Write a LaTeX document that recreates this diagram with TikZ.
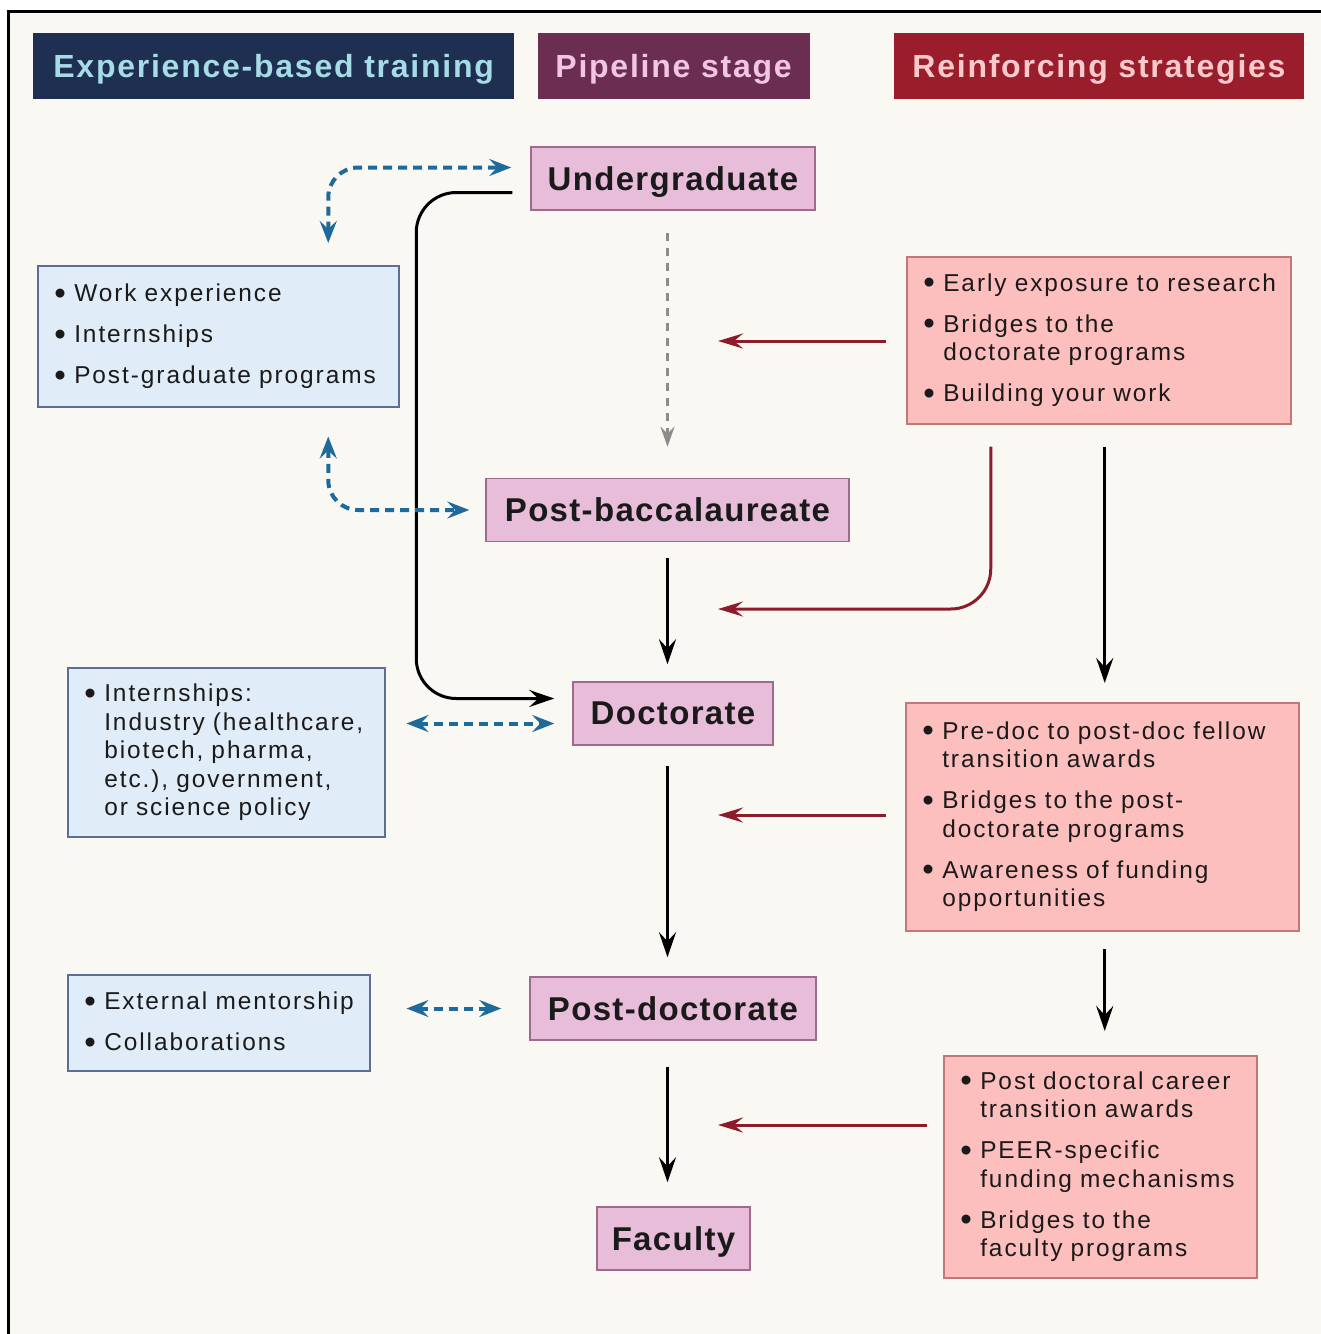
\documentclass[tikz,border=0pt]{standalone}
\usepackage{fontspec}
\setmainfont{Liberation Sans}[LetterSpace=8]
\usetikzlibrary{arrows.meta, positioning, calc}

\definecolor{cream}{HTML}{FAF8F3}
\definecolor{navyhead}{HTML}{1F2F52}
\definecolor{navytext}{HTML}{A6DCE6}
\definecolor{plumhead}{HTML}{6C2D52}
\definecolor{plumtext}{HTML}{F2C6E2}
\definecolor{redhead}{HTML}{9A1D2B}
\definecolor{redtext}{HTML}{F9C9CB}
\definecolor{stagefill}{HTML}{E8BDD9}
\definecolor{stageline}{HTML}{A06A8A}
\definecolor{expfill}{HTML}{E0ECF7}
\definecolor{expline}{HTML}{5C6D96}
\definecolor{strfill}{HTML}{FDBEBE}
\definecolor{strline}{HTML}{C27878}
\definecolor{bluearrow}{HTML}{1D6A9B}
\definecolor{redarrow}{HTML}{8E1B2B}
\definecolor{greyarrow}{HTML}{8C8C8C}
\definecolor{ink}{HTML}{1A1A1A}

\newcommand{\bitem}[1]{\mbox{\makebox[20pt][l]{\raisebox{-2.5pt}{\scalebox{1.35}{\textbullet}}}#1}}
\newcommand{\bcont}[1]{\mbox{\hspace*{20pt}#1}}

\tikzset{
	header/.style	={minimum height=66pt, inner sep=0pt, anchor=north west, text depth=0pt,
					  font=\bfseries\fontsize{32}{38}\selectfont\addfontfeature{LetterSpace=5.5}},
	stage/.style	={draw=stageline, fill=stagefill, line width=1.5pt, inner sep=0pt, minimum height=63pt,
					  text depth=0pt, text=ink, font=\bfseries\fontsize{33}{38}\selectfont\addfontfeature{LetterSpace=4}},
	listbox/.style	={line width=1.5pt, inner sep=0pt, anchor=north west, align=left,
					  text=ink, font=\fontsize{24.4}{28.5}\selectfont},
	expbox/.style	={listbox, draw=expline, fill=expfill},
	strbox/.style	={listbox, draw=strline, fill=strfill},
	bluedash/.style	={draw=bluearrow, line width=4pt, dash pattern=on 9pt off 6pt,
					  {Stealth[length=22pt, width=17pt, inset=8pt]}-{Stealth[length=22pt, width=17pt, inset=8pt]}},
	greydash/.style	={draw=greyarrow, line width=3.5pt, dash pattern=on 8pt off 7pt,
					  -{Stealth[length=20pt, width=14pt, inset=7pt]}},
	blackarr/.style	={draw=black, line width=3pt, -{Stealth[length=25pt, width=17pt, inset=9pt]}},
	redarr/.style	={draw=redarrow, line width=3pt, -{Stealth[length=25pt, width=15pt, inset=9pt]}},
}

\begin{document}
\begin{tikzpicture}[x=1pt, y=-1pt]
	\useasboundingbox (0,0) rectangle (1321,1334);
	\fill[white] (0,0) rectangle (1321,1334);
	\fill[cream] (8,10) rectangle (1321,1334);
	\draw[line width=3pt] (8.5,1334) -- (8.5,11.5) -- (1321,11.5);

	% column headers
	\node[header, fill=navyhead, text=navytext, minimum width=481pt] (hexp) at (33,33) {Experience-based training};
	\node[header, fill=plumhead, text=plumtext, minimum width=272pt] (hpipe) [right=23pt of hexp.north east, anchor=north west] {Pipeline stage};
	\node[header, fill=redhead, text=redtext, minimum width=410pt] (hreinf) [right=84pt of hpipe.north east, anchor=north west] {Reinforcing strategies};

	% pipeline stages
	\node[stage, minimum width=284pt] (ugrad)   at (673,178.5)  {Undergraduate};
	\node[stage, minimum width=363pt] (postbac) at (667.5,510)  {Post-baccalaureate};
	\node[stage, minimum width=200pt] (doct)    at (673,713.5)  {Doctorate};
	\node[stage, minimum width=286pt] (postdoc) at (673,1008.5) {Post-doctorate};
	\node[stage, minimum width=153pt] (fac)     at (673.5,1238.5) {Faculty};

	% experience-based training
	\node[expbox, minimum width=361pt, minimum height=141pt, text width=328pt] (work) at (37,265)
		{\bitem{Work experience}\\[12.5pt]\bitem{Internships}\\[12.5pt]\bitem{Post-graduate programs}};
	\node[expbox, minimum width=317pt, minimum height=169pt, text width=284pt] (intern) at (67,667)
		{\bitem{Internships:}\\\bcont{Industry (healthcare,}\\\bcont{biotech, pharma,}\\\bcont{etc.), government,}\\\bcont{or science policy}};
	\node[expbox, minimum width=302pt, minimum height=96pt, text width=269pt] (mentor) at (67,974)
		{\bitem{External mentorship}\\[12.5pt]\bitem{Collaborations}};

	% reinforcing strategies
	\node[strbox, minimum width=384pt, minimum height=167pt, text width=351pt] (early) at (906,256)
		{\bitem{Early exposure to research}\\[12.5pt]\bitem{Bridges to the}\\\bcont{doctorate programs}\\[12.5pt]\bitem{Building your work}};
	\node[strbox, minimum width=393pt, minimum height=228pt, text width=360pt] (predoc) at (905,702)
		{\bitem{Pre-doc to post-doc fellow}\\\bcont{transition awards}\\[12.5pt]\bitem{Bridges to the post-}\\\bcont{doctorate programs}\\[12.5pt]\bitem{Awareness of funding}\\\bcont{opportunities}};
	\node[strbox, minimum width=313pt, minimum height=222pt, text width=280pt] (career) at (943,1055)
		{\bitem{Post doctoral career}\\\bcont{transition awards}\\[12.5pt]\bitem{PEER-specific}\\\bcont{funding mechanisms}\\[12.5pt]\bitem{Bridges to the}\\\bcont{faculty programs}};

	% where the red arrows point
	\coordinate (hit1) at (718,341);
	\coordinate (hit2) at (718,609);
	\coordinate (hit3) at (718,815);
	\coordinate (hit4) at (718,1125);
	\coordinate (d1)   at ($(doct.west)+(0,10)$);

	% pipeline flow
	\draw[greydash, shorten <=22pt, shorten >=31pt] (postbac.north |- ugrad.south) -- (postbac.north);
	\draw[blackarr, shorten <=16pt, shorten >=17pt] (postbac.south) -- (postbac.south |- doct.north);
	\draw[blackarr, shorten <=20pt, shorten >=19pt] (postbac.south |- doct.south) -- (postbac.south |- postdoc.north);
	\draw[blackarr, shorten <=26pt, shorten >=24pt] (postbac.south |- postdoc.south) -- (postbac.south |- fac.north);
	\draw[blackarr, rounded corners=40pt, shorten <=18pt, shorten >=18pt]
		([yshift=-14pt]ugrad.west) -- ++(-114,0) |- ([yshift=15pt]doct.west);

	% experience links
	\draw[bluedash, rounded corners=30pt, shorten <=22pt, shorten >=19pt]
		([xshift=110pt]work.north) |- ([yshift=11pt]ugrad.west);
	\draw[bluedash, rounded corners=30pt, shorten <=29pt, shorten >=16pt]
		([xshift=110pt]work.south) |- (postbac.west);
	\draw[bluedash, shorten <=21pt, shorten >=18pt] (intern.east |- d1) -- (d1);
	\draw[bluedash, shorten <=36pt, shorten >=28pt] (mentor.east |- postdoc.west) -- (postdoc.west);

	% reinforcing links
	\draw[redarr, shorten <=20pt] (early.west |- hit1) -- (hit1);
	\draw[redarr, rounded corners=40pt, shorten <=22pt] ([xshift=-108pt]early.south) |- (hit2);
	\draw[redarr, shorten <=19pt] (predoc.west |- hit3) -- (hit3);
	\draw[redarr, shorten <=16pt] (career.west |- hit4) -- (hit4);
	\draw[blackarr, shorten <=22pt, shorten >=19pt] ([xshift=6pt]early.south) -- ([xshift=6pt]early.south |- predoc.north);
	\draw[blackarr, shorten <=17pt, shorten >=24pt] ([xshift=2.5pt]predoc.south) -- ([xshift=2.5pt]predoc.south |- career.north);
\end{tikzpicture}
\end{document}
